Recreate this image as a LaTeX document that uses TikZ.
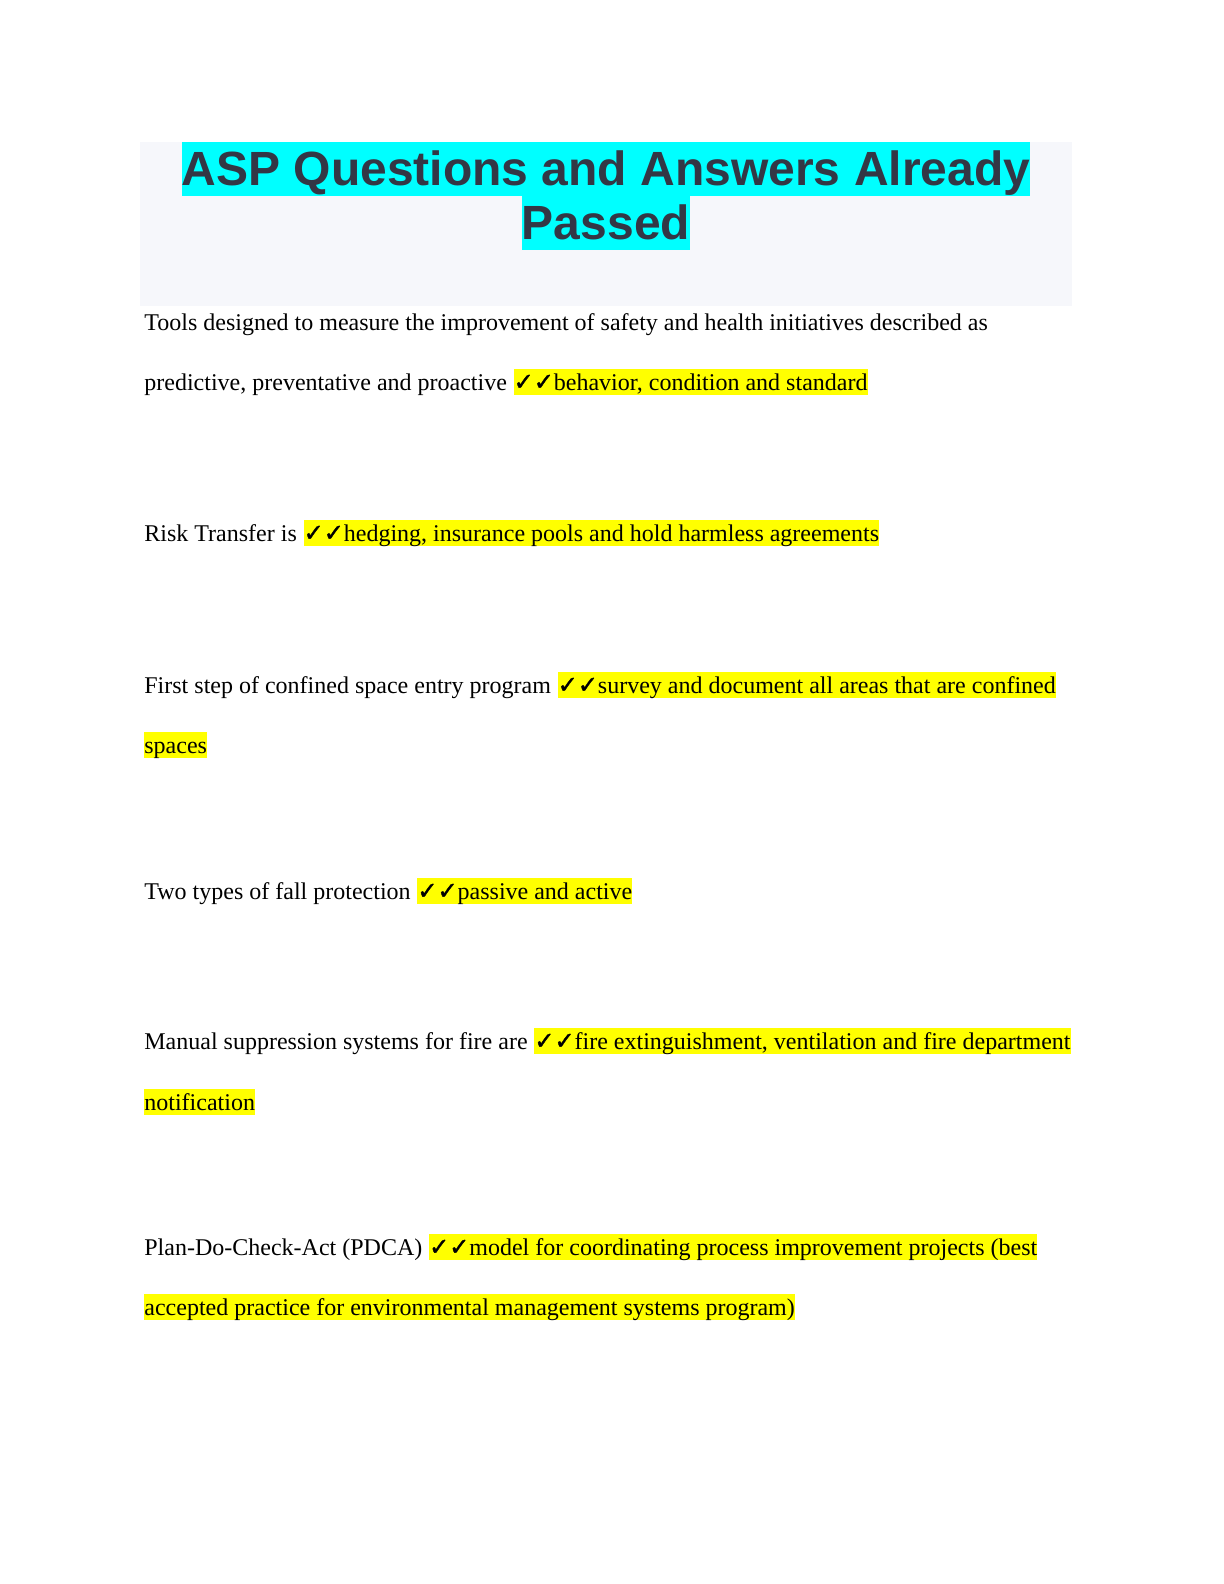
\documentclass[tikz,border=0pt]{standalone}
\usepackage{fontspec}
\setmainfont{Liberation Serif}
\newfontfamily\titlefont{Liberation Sans}
\newfontfamily\symfont[FakeBold=1.5]{DejaVu Sans}
\usepackage{tikz}
\usetikzlibrary{positioning}

\definecolor{titlegrey}{RGB}{51,55,69}
\definecolor{panelgrey}{RGB}{246,247,251}
\definecolor{titlecyan}{RGB}{0,255,255}
\definecolor{marker}{RGB}{255,255,0}
\newcommand{\ticks}{{\symfont ✓✓}}

\tikzset{
    titleline/.style={inner sep=0pt, anchor=base, fill=titlecyan, text=titlegrey,
        font=\titlefont\bfseries\fontsize{24}{27}\selectfont, text height=21.7pt, text depth=5.3pt},
    body/.style={inner sep=0pt, anchor=base west, font=\fontsize{12}{14}\selectfont,
        text height=10.7pt, text depth=2.7pt},
    hilite/.style={body, fill=marker},
}

\begin{document}
\begin{tikzpicture}[x=1pt,y=1pt]
        \useasboundingbox (0,0) rectangle (612,-792);
        \fill[panelgrey] (70,-71) rectangle (536,-153); % title panel
        \node[titleline] (title1) at (303,-92.7) {ASP Questions and Answers Already};
        \node[titleline] (title2) at (303,-119.7) {Passed};
        % question 1
        \node[body] (q1a) at (72,-165) {Tools designed to measure the improvement of safety and health initiatives described as};
        \node[body] (q1b) at (72,-195) {predictive, preventative and proactive};
        \node[hilite, right=3pt of q1b.base east, anchor=base west] (a1) {\ticks behavior, condition and standard};
        % question 2
        \node[body] (q2) at (72,-270.5) {Risk Transfer is};
        \node[hilite, right=3pt of q2.base east, anchor=base west] (a2) {\ticks hedging, insurance pools and hold harmless agreements};
        % question 3
        \node[body] (q3) at (72,-346.5) {First step of confined space entry program};
        \node[hilite, right=3pt of q3.base east, anchor=base west] (a3a) {\ticks survey and document all areas that are confined};
        \node[hilite] (a3b) at (72,-376.5) {spaces};
        % question 4
        \node[body] (q4) at (72,-449.5) {Two types of fall protection};
        \node[hilite, right=3pt of q4.base east, anchor=base west] (a4) {\ticks passive and active};
        % question 5
        \node[body] (q5) at (72,-524.5) {Manual suppression systems for fire are};
        \node[hilite, right=3pt of q5.base east, anchor=base west] (a5a) {\ticks fire extinguishment, ventilation and fire department};
        \node[hilite] (a5b) at (72,-555) {notification};
        % question 6
        \node[body] (q6) at (72,-627.5) {Plan-Do-Check-Act (PDCA)};
        \node[hilite, right=3pt of q6.base east, anchor=base west] (a6a) {\ticks model for coordinating process improvement projects (best};
        \node[hilite] (a6b) at (72,-657.5) {accepted practice for environmental management systems program)};
    \end{tikzpicture}
\end{document}
